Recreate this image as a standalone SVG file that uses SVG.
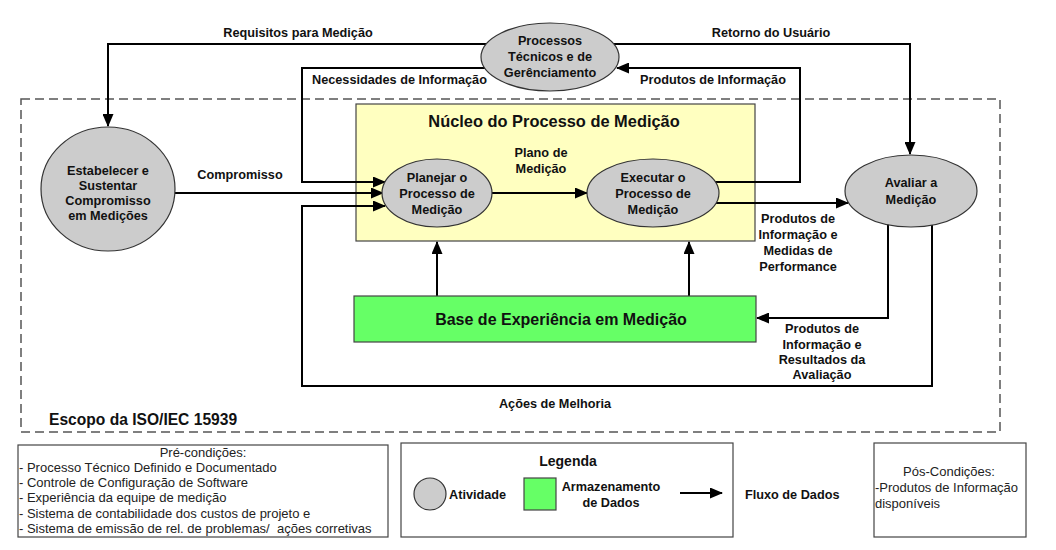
<svg xmlns="http://www.w3.org/2000/svg" width="1056" height="550" viewBox="0 0 1056 550">
<defs>
<marker id="ah" markerUnits="userSpaceOnUse" markerWidth="13" markerHeight="11" refX="12" refY="5.5" orient="auto">
<path d="M0,0 L13,5.5 L0,11 z" fill="#000"/>
</marker>
<style>
.act{fill:#cccccc;stroke:#333;stroke-width:1.2}
.lbl{font-family:"Liberation Sans",Arial,sans-serif;font-size:12.7px;font-weight:bold;fill:#111}
.mid{text-anchor:middle}
.reg{font-family:"Liberation Sans",Arial,sans-serif;font-size:13px;fill:#222;white-space:pre}
.con{fill:none;stroke:#000;stroke-width:2}
.box{fill:#fff;stroke:#444;stroke-width:1.2}
</style>
</defs>
<rect width="1056" height="550" fill="#ffffff"/>

<g id="scope">
<rect x="21" y="99" width="979" height="333" fill="none" stroke="#555" stroke-width="1.5" stroke-dasharray="9,5"/>
<text class="lbl" x="49" y="425" style="font-size:15.6px">Escopo da ISO/IEC 15939</text>
</g>

<g id="nucleo">
<rect x="356" y="104" width="399" height="137" fill="#ffffc0" stroke="#444" stroke-width="1.2"/>
<text class="lbl mid" x="554" y="127" style="font-size:16.4px">Núcleo do Processo de Medição</text>
</g>

<g id="connectors">
<path class="con" d="M486,44 L108,44 L108,126" marker-end="url(#ah)"/>
<path class="con" d="M614,44 L910,44 L910,154" marker-end="url(#ah)"/>
<path class="con" d="M485,68 L302,68 L302,182 L385,182" marker-end="url(#ah)"/>
<path class="con" d="M175,193 L383,193" marker-end="url(#ah)"/>
<path class="con" d="M932,225 L932,386 L302,386 L302,206 L385,206" marker-end="url(#ah)"/>
<path class="con" d="M492,193 L587,193" marker-end="url(#ah)"/>
<path class="con" d="M715,182 L800,182 L800,68 L617,68" marker-end="url(#ah)"/>
<path class="con" d="M716,203 L848,203" marker-end="url(#ah)"/>
<path class="con" d="M437,296 L437,242" marker-end="url(#ah)"/>
<path class="con" d="M689,296 L689,242" marker-end="url(#ah)"/>
<path class="con" d="M888,224 L888,318 L757,318" marker-end="url(#ah)"/>
<text class="lbl mid" x="298" y="37">Requisitos para Medição</text>
<text class="lbl mid" x="771" y="37">Retorno do Usuário</text>
<text class="lbl" x="312" y="84">Necessidades de Informação</text>
<text class="lbl" x="640" y="84">Produtos de Informação</text>
<text class="lbl mid" x="240" y="179">Compromisso</text>
<text class="lbl mid" x="541" y="157">Plano de</text>
<text class="lbl mid" x="541" y="173">Medição</text>
<text class="lbl mid" x="798" y="223">Produtos de</text>
<text class="lbl mid" x="798" y="239">Informação e</text>
<text class="lbl mid" x="798" y="255">Medidas de</text>
<text class="lbl mid" x="798" y="271">Performance</text>
<text class="lbl mid" x="822" y="333">Produtos de</text>
<text class="lbl mid" x="822" y="349">Informação e</text>
<text class="lbl mid" x="822" y="364">Resultados da</text>
<text class="lbl mid" x="822" y="379">Avaliação</text>
<text class="lbl mid" x="555" y="408">Ações de Melhoria</text>
</g>

<g id="processos">
<ellipse class="act" cx="550" cy="57" rx="69" ry="34"/>
<text class="lbl mid" x="550" y="45">Processos</text>
<text class="lbl mid" x="550" y="61">Técnicos e de</text>
<text class="lbl mid" x="550" y="77">Gerênciamento</text>
</g>

<g id="estabelecer">
<ellipse class="act" cx="108" cy="189" rx="67" ry="62"/>
<text class="lbl mid" x="108" y="175">Estabelecer e</text>
<text class="lbl mid" x="108" y="190">Sustentar</text>
<text class="lbl mid" x="108" y="205">Compromisso</text>
<text class="lbl mid" x="108" y="220">em Medições</text>
</g>

<g id="planejar">
<ellipse class="act" cx="437" cy="193" rx="55" ry="34"/>
<text class="lbl mid" x="437" y="182">Planejar o</text>
<text class="lbl mid" x="437" y="198">Processo de</text>
<text class="lbl mid" x="437" y="214">Medição</text>
</g>

<g id="executar">
<ellipse class="act" cx="653" cy="193" rx="66" ry="34"/>
<text class="lbl mid" x="653" y="182">Executar o</text>
<text class="lbl mid" x="653" y="198">Processo de</text>
<text class="lbl mid" x="653" y="214">Medição</text>
</g>

<g id="avaliar">
<ellipse class="act" cx="911" cy="191" rx="66" ry="36"/>
<text class="lbl mid" x="911" y="187">Avaliar a</text>
<text class="lbl mid" x="911" y="204">Medição</text>
</g>

<g id="base">
<rect x="354" y="296" width="402" height="46" fill="#66ff66" stroke="#444" stroke-width="1.2"/>
<text class="lbl mid" x="561" y="325" style="font-size:16px">Base de Experiência em Medição</text>
</g>

<g id="precondicoes">
<rect class="box" x="18" y="445" width="370" height="92"/>
<text class="reg mid" x="203" y="457">Pré-condições:</text>
<text class="reg" x="19" y="472">- Processo Técnico Definido e Documentado</text>
<text class="reg" x="19" y="487">- Controle de Configuração de Software</text>
<text class="reg" x="19" y="502">- Experiência da equipe de medição</text>
<text class="reg" x="19" y="518">- Sistema de contabilidade dos custos de projeto e</text>
<text class="reg" x="19" y="533">- Sistema de emissão de rel. de problemas/  ações corretivas</text>
</g>

<g id="legenda">
<rect class="box" x="401" y="443" width="332" height="94"/>
<text class="lbl mid" x="568" y="466" style="font-size:14px">Legenda</text>
<circle class="act" cx="430" cy="494" r="16"/>
<text class="lbl" x="449" y="499">Atividade</text>
<rect x="524" y="478" width="32" height="32" fill="#66ff66" stroke="#444" stroke-width="1.2"/>
<text class="lbl mid" x="611" y="491">Armazenamento</text>
<text class="lbl mid" x="611" y="507">de Dados</text>
<path class="con" d="M680,493 L722,493" marker-end="url(#ah)"/>
<text class="lbl" x="745" y="499">Fluxo de Dados</text>
</g>

<g id="poscondicoes">
<rect class="box" x="874" y="443" width="152" height="94"/>
<text class="reg mid" x="949" y="476">Pós-Condições:</text>
<text class="reg" x="875" y="492">-Produtos de Informação</text>
<text class="reg" x="875" y="508">disponíveis</text>
</g>
</svg>
